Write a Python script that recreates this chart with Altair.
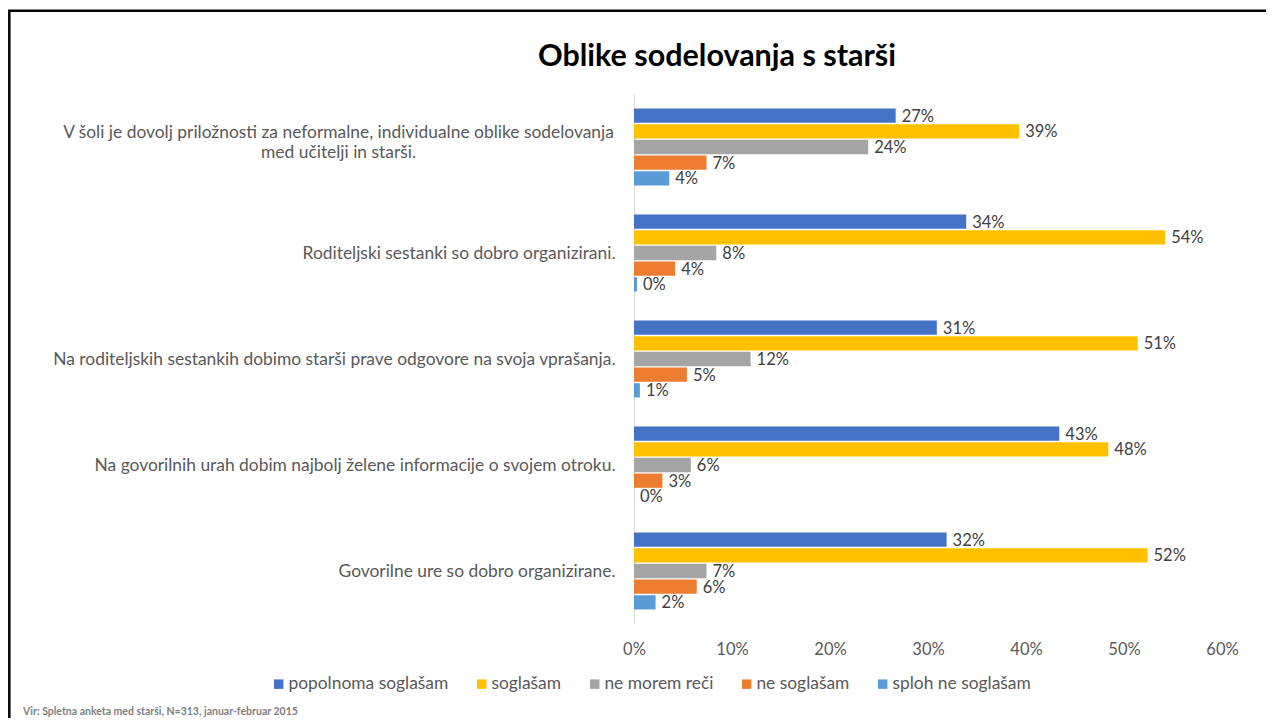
import altair as alt
import pandas as pd

categories = [
    "V šoli je dovolj priložnosti za neformalne, individualne oblike sodelovanja\nmed učitelji in starši.",
    "Roditeljski sestanki so dobro organizirani.",
    "Na roditeljskih sestankih dobimo starši prave odgovore na svoja vprašanja.",
    "Na govorilnih urah dobim najbolj želene informacije o svojem otroku.",
    "Govorilne ure so dobro organizirane.",
]
series = ["popolnoma soglašam", "soglašam", "ne morem reči", "ne soglašam", "sploh ne soglašam"]

popolnoma = [26.7, 33.9, 30.9, 43.4, 31.9]
soglasam = [39.3, 54.2, 51.4, 48.4, 52.4]
ne_morem = [23.9, 8.4, 11.9, 5.8, 7.4]
ne_soglasam = [7.4, 4.2, 5.4, 2.9, 6.4]
sploh_ne = [3.6, 0.3, 0.6, 0.0, 2.2]

colors = ["#4472C4", "#FFC000", "#A5A5A5", "#ED7D31", "#5B9BD5"]
x_ticks = [0, 10, 20, 30, 40, 50, 60]
title_text = "Oblike sodelovanja s starši"
source_text = "Vir: Spletna anketa med starši, N=313, januar-februar 2015"

rows = []
for s, vals in zip(series, [popolnoma, soglasam, ne_morem, ne_soglasam, sploh_ne]):
    for c, v in zip(categories, vals):
        rows.append({"kategorija": c, "odgovor": s, "delez": v})
df = pd.DataFrame(rows)

FONT = "Lato"
TXT = "#595959"
FIRST = "indexof(datum.value, 'V šoli') === 0"

y_enc = alt.Y(
    "kategorija:N",
    sort=categories,
    scale=alt.Scale(paddingInner=0.274, paddingOuter=0.137),
    axis=alt.Axis(
        title=None,
        labelExpr="split(datum.value, '\\n')",
        labelFontSize=17.4,
        labelFont=FONT,
        labelColor=TXT,
        labelLimit=900,
        labelLineHeight=20,
        ticks=False,
        domainColor="#D9D9D9",
        domainWidth=1,
        labelAlign={"condition": {"test": FIRST, "value": "center"}, "value": "right"},
        labelPadding={"condition": {"test": FIRST, "value": 296}, "value": 19},
        labelOffset={"condition": {"test": FIRST, "value": -14}, "value": 1},
    ),
)
x_enc = alt.X(
    "delez:Q",
    scale=alt.Scale(domain=[0, 60], nice=False),
    axis=alt.Axis(
        values=x_ticks,
        labelExpr="datum.value + '%'",
        grid=False,
        domain=False,
        ticks=False,
        title=None,
        labelPadding=17,
        labelFontSize=16.5,
        labelFont=FONT,
        labelColor=TXT,
        labelFlush=False,
    ),
)
yoff = alt.YOffset("odgovor:N", sort=series, scale=alt.Scale(paddingInner=0.09, paddingOuter=0))

base = alt.Chart(df).encode(y=y_enc, yOffset=yoff)

bars = base.mark_bar().encode(
    x=x_enc,
    color=alt.Color(
        "odgovor:N",
        sort=series,
        scale=alt.Scale(domain=series, range=colors),
        legend=alt.Legend(
            orient="none",
            legendX=-364,
            legendY=581,
            direction="horizontal",
            title=None,
            symbolType="square",
            symbolSize=90,
            symbolStrokeWidth=0,
            labelFontSize=17.4,
            labelFont=FONT,
            labelColor=TXT,
            labelOffset=1,
            columnPadding=24,
        ),
    ),
)

labels = base.mark_text(
    align="left", baseline="middle", dx=6, dy=1, fontSize=16.5, font=FONT, color="#404040"
).transform_calculate(lbl="format(datum.delez, '.0f') + '%'").encode(
    x=alt.X("delez:Q"), text="lbl:N"
)

one = pd.DataFrame({"t": [source_text], "h": [title_text]})
src = alt.Chart(one).mark_text(
    align="left", baseline="middle", fontSize=10.5, fontWeight="bold", font=FONT, color="#7F7F7F"
).encode(text="t:N", x=alt.value(-611), y=alt.value(618))

ttl = alt.Chart(one).mark_text(
    align="center", baseline="middle", fontSize=30.5, fontWeight="bold", font=FONT, color="#000000"
).encode(text="h:N", x=alt.value(83), y=alt.value(-37))

left_border = alt.Chart(one).mark_rule(color="#000000", strokeWidth=2.5).encode(
    x=alt.value(-624.7), y=alt.value(-84), y2=alt.value(640)
)
top_border = alt.Chart(one).mark_rule(color="#000000", strokeWidth=2.5).encode(
    y=alt.value(-83.2), x=alt.value(-626), x2=alt.value(700)
)

chart = alt.layer(bars, labels, src, ttl, left_border, top_border).properties(
    width=588,
    height=530,
    padding={"left": 626, "top": 86, "right": 44, "bottom": 94},
    autosize=alt.AutoSizeParams(type="none"),
).configure(font=FONT).configure_view(stroke=None)

chart.save("out.html", embed_options={"renderer": "svg", "actions": False})
